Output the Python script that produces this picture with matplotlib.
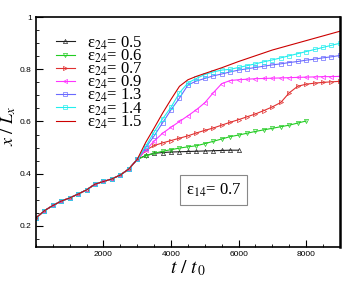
import matplotlib
matplotlib.use('Agg')
import matplotlib.pyplot as plt
from matplotlib.ticker import MultipleLocator

plt.rcParams['mathtext.fontset'] = 'stix'
plt.rcParams['font.family'] = ['Liberation Sans', 'DejaVu Sans']

# shared early stage (all cases coincide)
t_common = [0, 250, 500, 750, 1000, 1250, 1500, 1750, 2000, 2250, 2500, 2750, 3000]
x_common = [0.230, 0.258, 0.278, 0.295, 0.307, 0.322, 0.338, 0.360, 0.370, 0.380,
            0.395, 0.418, 0.455]

# later stage, every 250 from 3250
t_late = [3250 + 250 * i for i in range(24)]  # 3250 ... 9000

x_05 = [0.470, 0.478, 0.481, 0.483, 0.484, 0.485, 0.486, 0.487, 0.488, 0.489, 0.490, 0.490]
x_06 = [0.468, 0.478, 0.486, 0.492, 0.498, 0.503, 0.507, 0.515, 0.524, 0.533, 0.542, 0.548,
        0.555, 0.562, 0.568, 0.574, 0.580, 0.586, 0.594, 0.602]
x_07 = [0.490, 0.508, 0.518, 0.527, 0.536, 0.545, 0.556, 0.566, 0.575, 0.586, 0.597, 0.607,
        0.618, 0.629, 0.642, 0.656, 0.673, 0.710, 0.735, 0.743, 0.747, 0.750, 0.752, 0.754]
x_09 = [0.490, 0.525, 0.555, 0.578, 0.600, 0.622, 0.645, 0.672, 0.710, 0.745, 0.757, 0.760,
        0.762, 0.764, 0.765, 0.766, 0.767, 0.768, 0.769, 0.770, 0.771, 0.772, 0.772, 0.773]
x_13 = [0.500, 0.545, 0.595, 0.645, 0.690, 0.740, 0.755, 0.765, 0.775, 0.782, 0.790, 0.797,
        0.802, 0.807, 0.812, 0.817, 0.821, 0.826, 0.830, 0.835, 0.839, 0.844, 0.848, 0.853]
x_14 = [0.505, 0.560, 0.610, 0.655, 0.710, 0.748, 0.765, 0.780, 0.790, 0.797, 0.800, 0.807,
        0.814, 0.821, 0.829, 0.836, 0.844, 0.852, 0.860, 0.868, 0.876, 0.884, 0.892, 0.900]
x_15 = [0.520, 0.575, 0.632, 0.685, 0.735, 0.760, 0.773, 0.784, 0.795, 0.806, 0.818, 0.830,
        0.841, 0.852, 0.863, 0.874, 0.883, 0.892, 0.901, 0.910, 0.919, 0.928, 0.937, 0.946]

eps24 = ['0.5', '0.6', '0.7', '0.9', '1.3', '1.4', '1.5']
series = [x_05, x_06, x_07, x_09, x_13, x_14, x_15]
colors = ['#202020', '#22cc22', '#e03030', '#ff33ff', '#6a6aff', '#22eeee', '#cc0000']
markers = ['^', 'v', '>', '<', 's', 's', None]

fig = plt.figure(figsize=(3.49, 2.81), dpi=100)
ax = fig.add_axes([0.103, 0.122, 0.871, 0.817])

for eps, xs, c, m in zip(eps24, series, colors, markers):
    t = t_common + t_late[:len(xs)]
    x = x_common + xs
    ax.plot(t, x, color=c, lw=0.8, marker=m, ms=3, mfc='none', mew=0.5,
            label='ε' + r'$_{24}$' + '= ' + eps)

ax.set_xlim(0, 9000)
ax.set_ylim(0.12, 1.0)
ax.xaxis.set_minor_locator(MultipleLocator(500))
ax.yaxis.set_minor_locator(MultipleLocator(0.05))
ax.set_xticks([2000, 4000, 6000, 8000])
ax.set_yticks([0.2, 0.4, 0.6, 0.8, 1.0])
ax.set_yticklabels(['0.2', '0.4', '0.6', '0.8', '1'])
ax.tick_params(which='both', direction='in', labelsize=6, top=False, right=False, pad=3)
ax.tick_params(which='major', length=5, width=0.8)
ax.tick_params(which='minor', length=2.5, width=0.6)
for s in ax.spines.values():
    s.set_linewidth(1.2)
ax.spines['right'].set_linewidth(1.8)

ax.set_xlabel(r'$t\ /\ t_{\,0}$', fontsize=14, labelpad=0)
ax.set_ylabel(r'$x\ /\ L_x$', fontsize=13)
ax.yaxis.set_label_coords(-0.058, 0.525)

leg = ax.legend(loc='upper left', bbox_to_anchor=(0.045, 0.955), frameon=False,
                prop={'family': 'Liberation Serif', 'size': 12},
                handlelength=1.1, handletextpad=0.75, labelspacing=-0.25,
                borderaxespad=0)

ax.text(0.584, 0.247, 'ε' + r'$_{14}$' + '= 0.7', transform=ax.transAxes,
        fontsize=12, family='Liberation Serif', ha='center', va='center',
        bbox=dict(boxstyle='square,pad=0.35', fc='white', ec='#888888', lw=0.8))

fig.savefig('out.png', dpi=100)
